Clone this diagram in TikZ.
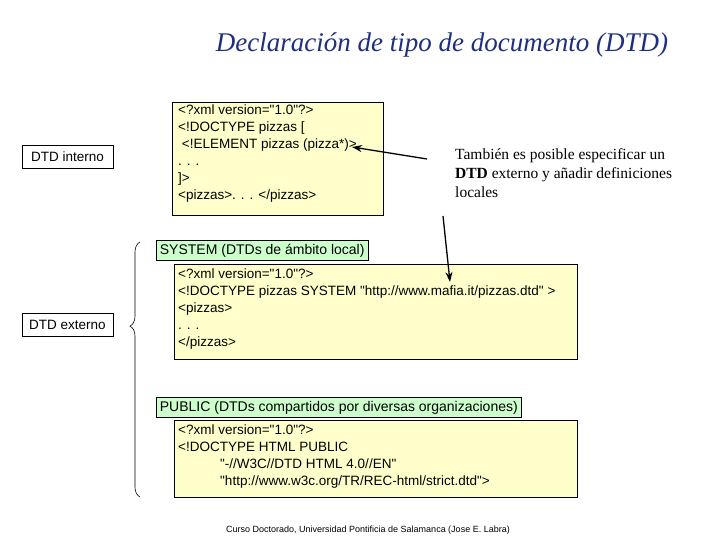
\documentclass[tikz,border=0pt]{standalone}
\usepackage{fontspec}
\setmainfont{Liberation Sans}
\newfontfamily\serifz{Liberation Serif}
\usetikzlibrary{decorations.pathreplacing,arrows.meta}
\definecolor{codey}{HTML}{FFFFCC}
\definecolor{labg}{HTML}{CCFFCC}
\definecolor{ttl}{HTML}{1F2F7F}
\newcommand{\dq}{\textquotedbl}
\tikzset{
 codebox/.style={draw,fill=codey,line width=0.8pt,anchor=north west,inner sep=0pt},
 lab/.style={draw,fill=labg,line width=0.8pt,anchor=north west,inner sep=3.5pt,font=\fontsize{14}{16}\selectfont},
 kind/.style={draw,line width=0.6pt,minimum width=91pt,minimum height=23pt,font=\fontsize{13.5}{15}\selectfont},
 code/.style={anchor=north west,align=left,font=\fontsize{13.5}{17}\selectfont,inner sep=0pt},
}
\begin{document}
\begin{tikzpicture}[x=1pt,y=-1pt]
\useasboundingbox (0,0) rectangle (720,540);
\node[font=\serifz\itshape\fontsize{27}{30}\selectfont,text=ttl] (title) at (442,45) {Declaración de tipo de documento (DTD)};
\node[kind] (int) at (67.5,156.5) {DTD interno};
\node[kind] (ext) at (67.5,324.5) {DTD externo};
\draw[codebox] (172,102) rectangle (383,215);
\node[code] (c1) at (178,105) {<?xml version=\dq1.0\dq?>\\<!DOCTYPE pizzas [\\\ <!ELEMENT pizzas (pizza*)>\\. . .\\]>\\<pizzas>. . . </pizzas>};
\node[anchor=north west,align=left,inner sep=0pt,font=\serifz\fontsize{15.5}{19}\selectfont] (note) at (455,148) {También es posible especificar un\\\textbf{DTD} externo y añadir definiciones\\locales};
\coordinate (a1) at (427,159);
\coordinate (a1h) at (352,147);
\draw[-{Stealth[length=10pt,width=7pt]},line width=1.3pt] (a1) -- (a1h);
\draw[codebox] (174,264) rectangle (577,359);
\node[code] (c2) at (178,269) {<?xml version=\dq1.0\dq?>\\<!DOCTYPE pizzas SYSTEM \dq http://www.mafia.it/pizzas.dtd\dq\ >\\<pizzas>\\. . .\\</pizzas>};
\draw[codebox] (174,420) rectangle (577,497);
\node[code] (c3) at (178,425) {<?xml version=\dq1.0\dq?>\\<!DOCTYPE HTML PUBLIC\\\hspace*{42pt}\dq-//W3C//DTD HTML 4.0//EN\dq\\\hspace*{42pt}\dq http://www.w3c.org/TR/REC-html/strict.dtd\dq>};
\node[lab] (sys) at (156,240) {SYSTEM (DTDs de ámbito local)};
\node[lab] (pub) at (156,397) {PUBLIC (DTDs compartidos por diversas organizaciones)};
\coordinate (a2) at (443,216);
\coordinate (a2h) at (450,282);
\draw[-{Stealth[length=10pt,width=7pt]},line width=1.3pt] (a2) -- (a2h);
\draw[decorate,decoration={brace,amplitude=10pt,aspect=0.67},line width=0.6pt] (140,497) -- (140,242);
\node[font=\fontsize{9}{11}\selectfont] (foot) at (368,530) {Curso Doctorado, Universidad Pontificia de Salamanca (Jose E. Labra)};
\end{tikzpicture}
\end{document}
